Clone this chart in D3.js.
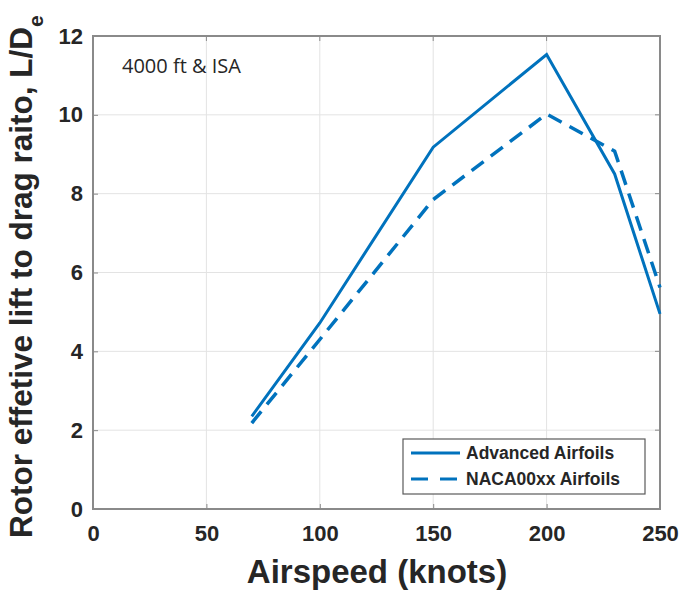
<!DOCTYPE html>
<html>
<head>
<meta charset="utf-8">
<script src="https://cdn.jsdelivr.net/npm/d3@7"></script>
<style>
  body { margin: 0; background: #fff; }
  svg { display: block; font-family: "Liberation Sans", Arial, sans-serif; }
</style>
</head>
<body>
<svg width="685" height="591"></svg>
<script>
  // airspeed in knots
  const airspeed = [70, 100, 150, 200, 230, 250];
  const advanced = [2.35, 4.72, 9.18, 11.53, 8.5, 4.95];
  const naca = [2.18, 4.3, 7.85, 10.02, 9.08, 5.62];
  const xTicks = [0, 50, 100, 150, 200, 250];
  const yTicks = [0, 2, 4, 6, 8, 10, 12];
  const seriesNames = ['Advanced Airfoils', 'NACA00xx Airfoils'];

  const svg = d3.select('svg');
  const pL = 93, pR = 660, pT = 36, pB = 509;
  const blue = '#0072BD';

  const x = d3.scaleLinear().domain([0, 250]).range([pL, pR]);
  const y = d3.scaleLinear().domain([0, 12]).range([pB, pT]);

  // grid
  svg.append('g').selectAll('line').data(xTicks).enter().append('line')
    .attr('x1', d => x(d)).attr('x2', d => x(d))
    .attr('y1', pT).attr('y2', pB)
    .attr('stroke', '#e3e3e3').attr('stroke-width', 1);
  svg.append('g').selectAll('line').data(yTicks).enter().append('line')
    .attr('y1', d => y(d)).attr('y2', d => y(d))
    .attr('x1', pL).attr('x2', pR)
    .attr('stroke', '#e3e3e3').attr('stroke-width', 1);

  // axes
  const xAxis = svg.append('g').attr('transform', `translate(0,${pB})`)
    .call(d3.axisBottom(x).tickValues(xTicks).tickSize(-5).tickPadding(16));
  const yAxis = svg.append('g').attr('transform', `translate(${pL},0)`)
    .call(d3.axisLeft(y).tickValues(yTicks).tickSize(-5).tickPadding(10));
  [xAxis, yAxis].forEach(a => {
    a.select('.domain').remove();
    a.selectAll('line').attr('stroke', '#8a8a8a');
    a.selectAll('text').attr('fill', '#262626')
      .style('font-size', '22px').style('font-weight', 'bold')
      .style('font-family', '"Liberation Sans", Arial, sans-serif');
  });
  // top/right ticks
  svg.append('g').selectAll('line').data(xTicks).enter().append('line')
    .attr('x1', d => x(d)).attr('x2', d => x(d))
    .attr('y1', pT).attr('y2', pT + 5).attr('stroke', '#8a8a8a');
  svg.append('g').selectAll('line').data(yTicks).enter().append('line')
    .attr('y1', d => y(d)).attr('y2', d => y(d))
    .attr('x1', pR).attr('x2', pR - 5).attr('stroke', '#8a8a8a');

  svg.append('rect')
    .attr('x', pL).attr('y', pT)
    .attr('width', pR - pL).attr('height', pB - pT)
    .attr('fill', 'none').attr('stroke', '#8a8a8a').attr('stroke-width', 2);

  // lines
  const line = d3.line().x((d, i) => x(airspeed[i])).y(d => y(d));
  svg.append('path').datum(advanced).attr('d', line)
    .attr('fill', 'none').attr('stroke', blue).attr('stroke-width', 3);
  svg.append('path').datum(naca).attr('d', line)
    .attr('fill', 'none').attr('stroke', blue).attr('stroke-width', 3.5)
    .attr('stroke-dasharray', '15,9');

  // annotation
  svg.append('text').attr('x', 122).attr('y', 73)
    .style('font-family', '"Open Sans", "DejaVu Sans", sans-serif')
    .style('font-size', '20px').attr('fill', '#262626')
    .text('4000 ft & ISA');

  // legend
  const lg = svg.append('g');
  lg.append('rect').attr('x', 403).attr('y', 439).attr('width', 242).attr('height', 55)
    .attr('fill', '#fff').attr('stroke', '#5a5a5a').attr('stroke-width', 1.2);
  seriesNames.forEach((name, i) => {
    const ly = 453 + i * 26;
    lg.append('line').attr('x1', 411).attr('x2', 460).attr('y1', ly).attr('y2', ly)
      .attr('stroke', blue).attr('stroke-width', 3)
      .attr('stroke-dasharray', i === 1 ? '17,12' : null);
    lg.append('text').attr('x', 466).attr('y', ly + 6)
      .style('font-size', '17.5px').style('font-weight', 'bold').attr('fill', '#262626')
      .text(name);
  });

  // axis labels
  svg.append('text').attr('x', 377).attr('y', 583)
    .attr('text-anchor', 'middle')
    .style('font-size', '33px').style('font-weight', 'bold').attr('fill', '#262626')
    .text('Airspeed (knots)');

  const yl = svg.append('text')
    .attr('transform', 'translate(32,538) rotate(-90)')
    .attr('text-anchor', 'start')
    .style('font-size', '31.5px').style('font-weight', 'bold').attr('fill', '#262626');
  yl.append('tspan').text('Rotor effetive lift to drag raito, L/D');
  yl.append('tspan').attr('dy', 11).style('font-size', '21px').text('e');
</script>
</body>
</html>
